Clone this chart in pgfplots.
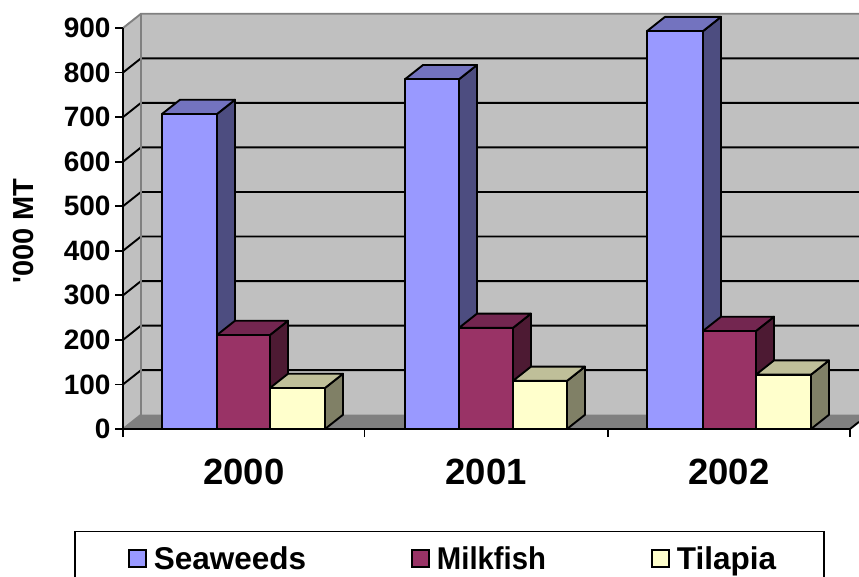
\documentclass[border=0pt]{standalone}
\usepackage{pgfplots}
\usepackage{fontspec}
\setmainfont{Liberation Sans}
\newfontfamily\plainsans{Liberation Sans}
\pgfplotsset{compat=1.18}
\definecolor{wall}{HTML}{C0C0C0}
\definecolor{flr}{HTML}{808080}
\definecolor{sF}{HTML}{9999FF}\definecolor{sS}{HTML}{4D4D80}\definecolor{sT}{HTML}{7373BF}
\definecolor{mF}{HTML}{993366}\definecolor{mS}{HTML}{4D1A33}\definecolor{mT}{HTML}{732650}
\definecolor{tF}{HTML}{FFFFCC}\definecolor{tS}{HTML}{808066}\definecolor{tT}{HTML}{BFBF99}
% one 3-D column: left x, right x, value, colour prefix
\newcommand{\column}[4]{%
  \pgfmathsetmacro\xb{#2+18}\pgfmathsetmacro\xc{#1+18}\pgfmathsetmacro\vb{#3+32}%
  \addplot[forget plot,draw=black,line width=1.9pt,line join=round,fill=#4S] coordinates {(#2,0) (\xb,32) (\xb,\vb) (#2,#3)} --cycle;
  \addplot[forget plot,draw=black,line width=1.9pt,line join=round,fill=#4T] coordinates {(#1,#3) (\xc,\vb) (\xb,\vb) (#2,#3)} --cycle;
  \addplot[forget plot,draw=black,line width=1.9pt,line join=round,fill=#4F] coordinates {(#1,0) (#1,#3) (#2,#3) (#2,0)} --cycle;
}
\newcommand{\gridl}[2]{%
  \addplot[forget plot,black,line width=1.9pt] coordinates {(123,#1) (141,#2) (859,#2)};
}
\begin{document}
\begin{tikzpicture}[x=1pt,y=1pt]
\useasboundingbox (0,0) rectangle (859,-577);
\clip (0,0) rectangle (859,-577);
\begin{axis}[
  at={(123pt,-429pt)},anchor=south west,
  scale only axis,width=727pt,height=401pt,
  xmin=123,xmax=850,ymin=0,ymax=900,
  clip=false,axis on top,
  axis x line*=bottom,axis y line*=left,
  axis line style={black,line width=1.9pt,-},
  tick style={black,line width=1.7pt},
  tick align=outside,major tick length=8pt,
  xtick={123,364.5,608,850},
  x tick label as interval,
  xticklabels={2000,2001,2002},
  ytick={0,100,...,900},
  x tick label style={font=\fontsize{36.5}{36.5}\selectfont\bfseries,yshift=-18pt},
  y tick label style={font=\fontsize{28}{28}\selectfont\bfseries,xshift=-1pt},
  /pgf/number format/assume math mode=true,
  ylabel={'000 MT},
  every axis y label/.style={at={(axis cs:23.5,444)},rotate=90,anchor=center,font=\plainsans\fontsize{29}{29}\selectfont\bfseries},
  legend columns=3,
  legend cell align=left,
  legend image code/.code={\path[draw=none,fill=none] (0pt,0pt) -- (25pt,0pt);\draw[#1] (8pt,-8.5pt) rectangle (25pt,8.5pt);},
  legend style={at={(axis cs:74,-228)},anchor=north west,draw=black,line width=1.9pt,
    font=\fontsize{31.5}{31.5}\selectfont\bfseries,inner xsep=46pt,inner ysep=13pt,
    /tikz/every odd column/.append style={column sep=5pt},
    /tikz/every even column/.append style={column sep=96pt}},
]
% walls and floor
\addplot[forget plot,fill=wall,draw=none] coordinates {(141,32) (859,32) (859,932) (141,932)} --cycle;
\addplot[forget plot,fill=wall,draw=none] coordinates {(123,0) (141,32) (141,932) (123,900)} --cycle;
\addplot[forget plot,fill=flr,draw=none] coordinates {(123,0) (141,32) (859,32) (859,16) (850,0)} --cycle;
% gridlines
\gridl{100}{132}\gridl{200}{232}\gridl{300}{332}\gridl{400}{432}
\gridl{500}{532}\gridl{600}{632}\gridl{700}{732}\gridl{800}{832}
\addplot[forget plot,flr,line width=1.9pt] coordinates {(123,900) (141,932) (859,932)};
\addplot[forget plot,flr,line width=1.9pt] coordinates {(123,0) (141,32) (141,932)};
\addplot[forget plot,black,line width=1.9pt] coordinates {(850,0) (859,16)};
% 2000
\column{162}{217}{707}{s}\column{217}{270}{211}{m}\column{270}{325}{92}{t}
% 2001
\column{405}{459}{785}{s}\column{459}{513}{227}{m}\column{513}{567}{108}{t}
% 2002
\column{647}{703}{893}{s}\column{703}{756}{220}{m}\column{756}{811}{122}{t}
\addlegendimage{fill=sF,draw=black,line width=1.7pt}\addlegendentry{Seaweeds}
\addlegendimage{fill=mF,draw=black,line width=1.7pt}\addlegendentry{\scalebox{0.93}[1]{Milkfish}}
\addlegendimage{fill=tF,draw=black,line width=1.7pt}\addlegendentry{Tilapia}
\end{axis}
\end{tikzpicture}
\end{document}
